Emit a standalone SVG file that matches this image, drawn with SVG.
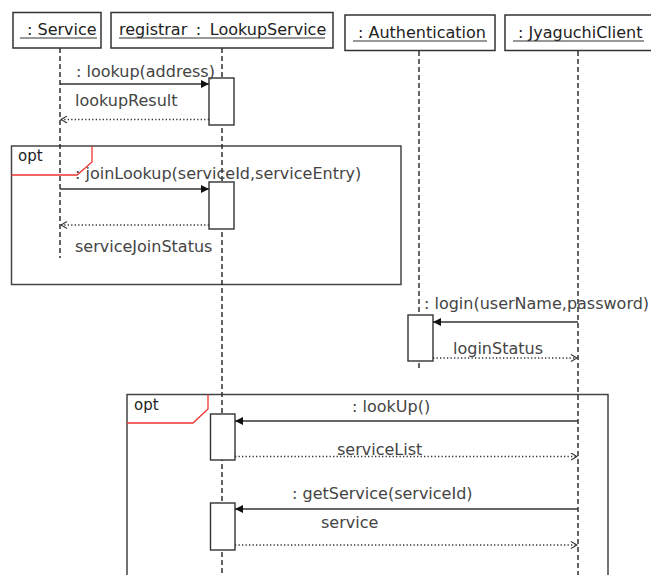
<svg xmlns="http://www.w3.org/2000/svg" width="651" height="575" viewBox="0 0 651 575">
  <defs>
    <marker id="solid" viewBox="0 0 8 8" refX="8" refY="4" markerWidth="8" markerHeight="8" markerUnits="userSpaceOnUse" orient="auto">
      <path d="M0,0 L8,4 L0,8 Z" fill="#111"/>
    </marker>
    <marker id="open" viewBox="0 0 8 8" refX="7" refY="4" markerWidth="8" markerHeight="8" markerUnits="userSpaceOnUse" orient="auto">
      <path d="M1,0.5 L7,4 L1,7.5" fill="none" stroke="#333" stroke-width="1.1"/>
    </marker>
  </defs>
  <style>
    .head { fill: #fff; stroke: #333; stroke-width: 1.5; }
    .htext { font-family: "DejaVu Sans", sans-serif; font-size: 16px; fill: #222; }
    .uline { stroke: #333; stroke-width: 1.2; }
    .life { stroke: #222; stroke-width: 1.4; stroke-dasharray: 5 3; fill: none; }
    .act { fill: #fff; stroke: #333; stroke-width: 1.4; }
    .call { stroke: #333; stroke-width: 1.4; fill: none; marker-end: url(#solid); }
    .ret { stroke: #333; stroke-width: 1.3; stroke-dasharray: 1.3 2.2; fill: none; marker-end: url(#open); }
    .lbl { font-family: "DejaVu Sans", sans-serif; font-size: 16px; fill: #444; }
    .frame { fill: none; stroke: #444; stroke-width: 1.5; }
    .tab { fill: none; stroke: #f03434; stroke-width: 1.3; }
    .op { font-family: "DejaVu Sans", sans-serif; font-size: 15px; fill: #222; }
  </style>

  <!-- combined fragments -->
  <g id="opt-join">
    <rect class="frame" x="11.5" y="146" width="389.5" height="138.5"/>
    <path class="tab" d="M92,146 V162 L77,175 H11.5"/>
    <text class="op" x="18" y="161">opt</text>
  </g>
  <g id="opt-services">
    <path class="frame" d="M127,575 V394.5 H608 V575"/>
    <path class="tab" d="M208,394.5 V409 L193,423 H127"/>
    <text class="op" x="134" y="410">opt</text>
  </g>

  <!-- lifelines -->
  <g id="lifelines">
    <line class="life" x1="60" y1="48" x2="60" y2="258"/>
    <line class="life" x1="222" y1="48" x2="222" y2="575"/>
    <line class="life" x1="419" y1="51" x2="419" y2="370"/>
    <line class="life" x1="578" y1="51" x2="578" y2="575"/>
  </g>

  <!-- participants -->
  <g id="service">
    <rect class="head" x="13" y="12.5" width="88" height="35.5"/>
    <text class="htext" x="27" y="35">: Service</text>
    <line class="uline" x1="20" y1="38" x2="97" y2="38"/>
  </g>
  <g id="registrar">
    <rect class="head" x="111" y="12.5" width="222" height="35.5"/>
    <text class="htext" x="119" y="35" word-spacing="3.5">registrar : LookupService</text>
    <line class="uline" x1="119" y1="38" x2="325" y2="38"/>
  </g>
  <g id="authentication">
    <rect class="head" x="345" y="15" width="150" height="35.5"/>
    <text class="htext" x="358" y="38">: Authentication</text>
    <line class="uline" x1="353" y1="41" x2="487" y2="41"/>
  </g>
  <g id="client">
    <rect class="head" x="505" y="15" width="160" height="35.5"/>
    <text class="htext" x="518" y="38">: JyaguchiClient</text>
    <line class="uline" x1="513" y1="41" x2="644" y2="41"/>
  </g>

  <!-- activations -->
  <g id="activations">
    <rect class="act" x="209" y="78" width="25" height="47"/>
    <rect class="act" x="209" y="182" width="25" height="47"/>
    <rect class="act" x="408" y="315" width="25" height="46"/>
    <rect class="act" x="210.5" y="414" width="24.5" height="46"/>
    <rect class="act" x="210.5" y="503" width="24.5" height="47"/>
  </g>

  <!-- messages -->
  <g id="connectors">
    <line class="call" x1="60" y1="84" x2="209" y2="84"/>
    <line class="ret" x1="209" y1="119.5" x2="61" y2="119.5"/>
    <line class="call" x1="60" y1="189" x2="209" y2="189"/>
    <line class="ret" x1="209" y1="225" x2="61" y2="225"/>
    <line class="call" x1="578" y1="322" x2="433" y2="322"/>
    <line class="ret" x1="433" y1="358" x2="577" y2="358"/>
    <line class="call" x1="578" y1="421" x2="235" y2="421"/>
    <line class="ret" x1="235" y1="456.5" x2="577" y2="456.5"/>
    <line class="call" x1="578" y1="509" x2="235" y2="509"/>
    <line class="ret" x1="235" y1="545" x2="577" y2="545"/>
  </g>

  <!-- message labels -->
  <g id="labels">
    <text class="lbl" x="76" y="77">: lookup(address)</text>
    <text class="lbl" x="75" y="106">lookupResult</text>
    <text class="lbl" x="75" y="179">: joinLookup(serviceId,serviceEntry)</text>
    <text class="lbl" x="75" y="252">serviceJoinStatus</text>
    <text class="lbl" x="424" y="309">: login(userName,password)</text>
    <text class="lbl" x="453" y="354">loginStatus</text>
    <text class="lbl" x="352" y="412">: lookUp()</text>
    <text class="lbl" x="337" y="455">serviceList</text>
    <text class="lbl" x="292" y="499">: getService(serviceId)</text>
    <text class="lbl" x="321" y="528">service</text>
  </g>
</svg>
